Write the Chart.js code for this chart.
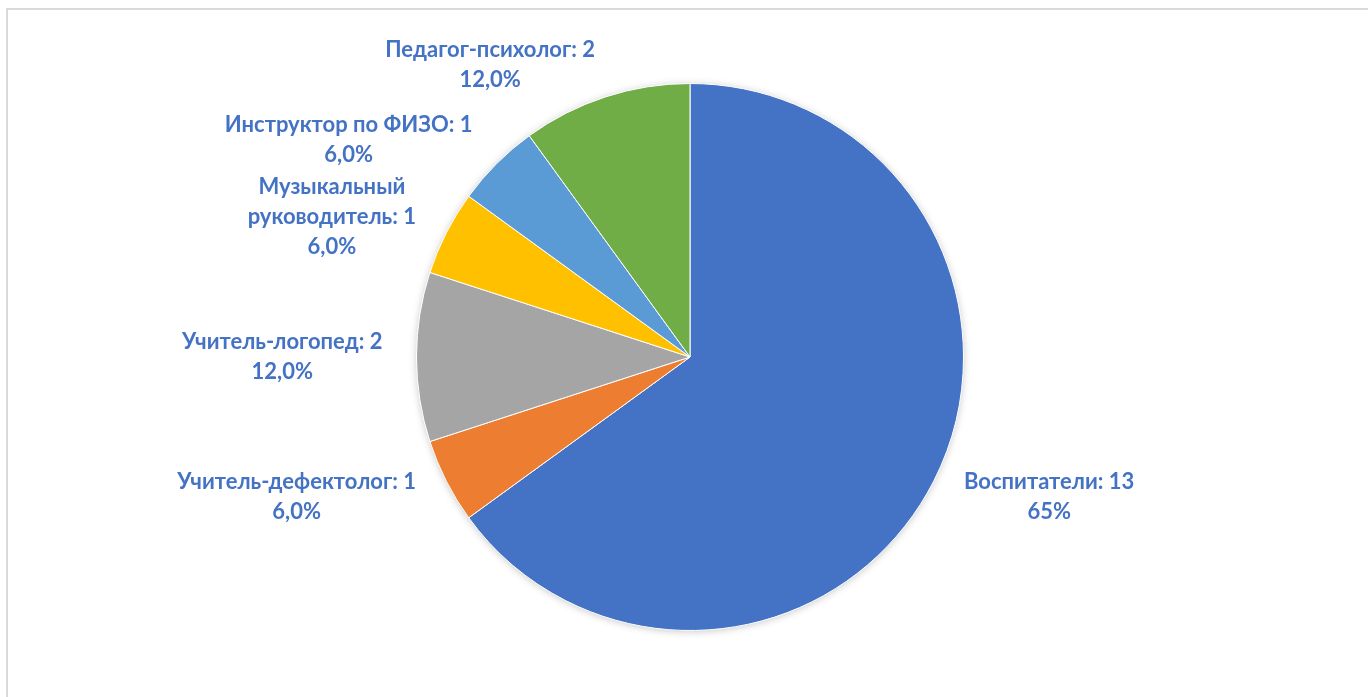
<!DOCTYPE html>
<html lang="ru">
<head>
<meta charset="utf-8">
<title>Педагогический состав</title>
<script src="https://cdn.jsdelivr.net/npm/chart.js@4.4.1/dist/chart.umd.min.js"></script>
<style>
    html, body { margin: 0; padding: 0; background: #fff; }
    #wrap { position: relative; width: 1368px; height: 697px; overflow: hidden; }
    #frame {
        position: absolute; left: 6px; top: 8px; right: 0; bottom: 0;
        border-top: 2px solid #d9d9d9; border-left: 2px solid #d9d9d9;
        pointer-events: none;
    }
    canvas { position: absolute; left: 0; top: 0; }
</style>
</head>
<body>
<div id="wrap">
    <canvas id="staffChart" width="1368" height="697"></canvas>
    <div id="frame"></div>
</div>
<script>
// Data
const categories = [
    ['Воспитатели'],
    ['Учитель-дефектолог'],
    ['Учитель-логопед'],
    ['Музыкальный', 'руководитель'],
    ['Инструктор по ФИЗО'],
    ['Педагог-психолог']
];
const staffCounts = [13, 1, 2, 1, 1, 2];
const percentLabels = ['65%', '6,0%', '12,0%', '6,0%', '6,0%', '12,0%'];
const sliceColors = ['#4472C4', '#ED7D31', '#A5A5A5', '#FFC000', '#5B9BD5', '#70AD47'];

const labelColor = '#4472C4';
const labelFont = 'bold 22px Lato, "Open Sans", sans-serif';
const lineHeight = 30;
const labelGap = 34; // distance from pie edge to label block

// Soft shadow under the pie
const pieShadow = {
    id: 'pieShadow',
    beforeDatasetsDraw(chart) {
        const arc = chart.getDatasetMeta(0).data[0];
        if (!arc) return;
        const ctx = chart.ctx;
        ctx.save();
        ctx.shadowColor = 'rgba(0,0,0,0.28)';
        ctx.shadowBlur = 9;
        ctx.shadowOffsetX = 0;
        ctx.shadowOffsetY = 1;
        ctx.fillStyle = '#ffffff';
        ctx.beginPath();
        ctx.arc(arc.x, arc.y, arc.outerRadius - 1, 0, Math.PI * 2);
        ctx.fill();
        ctx.restore();
    }
};

// Excel-like outside labels: name: value / percent, lines centred in a block
const outsideLabels = {
    id: 'outsideLabels',
    afterDatasetsDraw(chart) {
        const ctx = chart.ctx;
        const arcs = chart.getDatasetMeta(0).data;
        ctx.save();
        ctx.font = labelFont;
        ctx.fillStyle = labelColor;
        ctx.textBaseline = 'middle';
        ctx.textAlign = 'center';
        arcs.forEach((arc, i) => {
            const lines = categories[i].slice();
            lines[lines.length - 1] += ': ' + staffCounts[i];
            lines.push(percentLabels[i]);

            const mid = (arc.startAngle + arc.endAngle) / 2;
            const d = arc.outerRadius + labelGap;
            const ax = arc.x + Math.cos(mid) * d;
            const ay = arc.y + Math.sin(mid) * d;

            const blockW = Math.max(...lines.map(l => ctx.measureText(l).width));
            const blockH = lines.length * lineHeight;
            let cx = ax;
            const c = Math.cos(mid);
            if (c > 0.15) cx = ax + blockW / 2;
            else if (c < -0.15) cx = ax - blockW / 2;

            const top = ay - blockH / 2 + lineHeight / 2;
            lines.forEach((l, k) => ctx.fillText(l, cx, top + k * lineHeight));
        });
        ctx.restore();
    }
};

const chart = new Chart(document.getElementById('staffChart'), {
    type: 'pie',
    data: {
        labels: categories,
        datasets: [{
            data: staffCounts,
            backgroundColor: sliceColors,
            borderColor: '#ffffff',
            borderWidth: 1
        }]
    },
    options: {
        responsive: false,
        animation: false,
        layout: { padding: { top: 83, bottom: 66, left: 12, right: 0 } },
        plugins: {
            legend: { display: false },
            tooltip: { enabled: false }
        }
    },
    plugins: [pieShadow, outsideLabels]
});
</script>
</body>
</html>
